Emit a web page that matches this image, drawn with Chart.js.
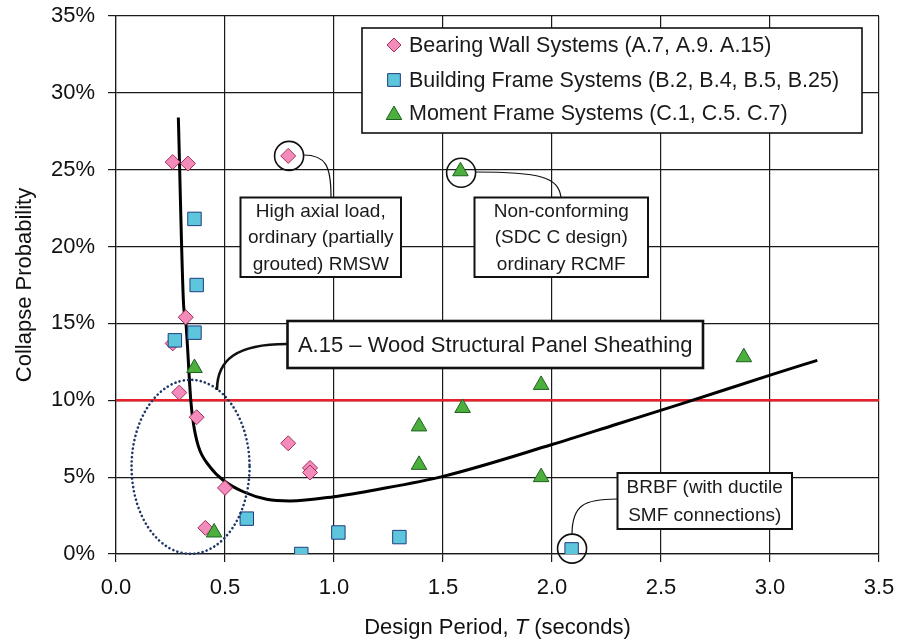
<!DOCTYPE html>
<html>
<head>
<meta charset="utf-8">
<script src="https://cdn.jsdelivr.net/npm/chart.js@4.4.0/dist/chart.umd.min.js"></script>
<style>
  html, body { margin: 0; padding: 0; background: #fff; }
  #wrap { width: 904px; height: 643px; }
</style>
</head>
<body>
<div id="wrap"><canvas id="grafico"></canvas></div>
<script>
// Bearing wall systems (periodo en s, probabilidad de colapso en %)
var periodoMuro = [0.26, 0.33, 0.79, 0.32, 0.26, 0.29, 0.37, 0.79, 0.89, 0.89, 0.50, 0.41];
var colapsoMuro = [25.5, 25.4, 25.9, 15.4, 13.7, 10.5, 8.9, 7.2, 5.6, 5.3, 4.3, 1.7];

// Building frame systems
var periodoPortico = [0.36, 0.37, 0.36, 0.27, 0.60, 0.85, 1.02, 1.30, 2.09];
var colapsoPortico = [21.8, 17.5, 14.4, 13.9, 2.3, 0.0, 1.4, 1.1, 0.3];

// Moment frame systems
var periodoMomento = [0.36, 0.45, 1.39, 1.39, 1.59, 1.58, 1.95, 1.95, 2.88];
var colapsoMomento = [12.1, 1.4, 8.3, 5.8, 9.5, 24.9, 11.0, 5.0, 12.8];

// Curva A.15
var periodoCurva = [0.286, 0.309, 0.321, 0.343, 0.355, 0.378, 0.431, 0.492, 0.584, 0.691, 0.798, 1.00, 1.20, 1.50, 2.00, 2.30, 2.60, 3.015, 3.217];
var colapsoCurva = [28.4, 16.5, 15.0, 10.0, 8.5, 7.0, 5.67, 4.8, 4.05, 3.56, 3.45, 3.73, 4.2, 5.05, 7.12, 8.46, 9.8, 11.7, 12.6];

// Limite del 10 %
var periodoLimite = [0, 3.5];
var colapsoLimite = [10, 10];

var etiquetasLeyenda = [
  'Bearing Wall Systems (A.7, A.9. A.15)',
  'Building Frame Systems (B.2, B.4, B.5, B.25)',
  'Moment Frame Systems (C.1, C.5. C.7)'
];

var fuente = '"Liberation Sans", Arial, sans-serif';

function puntos(xs, ys) {
  return xs.map(function (x, i) { return { x: x, y: ys[i] }; });
}

var estiloMuro = { pointStyle: 'rectRot', radius: 7.5, fill: '#f38bbb', borde: '#a4305c' };
var estiloPortico = { pointStyle: 'rect', radius: 9.5, fill: '#5ec6dc', borde: '#1f3c80' };
var estiloMomento = { pointStyle: 'triangle', radius: 9, fill: '#4cae3c', borde: '#1d621d' };
var estilos = [estiloMuro, estiloPortico, estiloMomento];

function serie(label, xs, ys, e, orden) {
  return {
    type: 'scatter',
    label: label,
    data: puntos(xs, ys),
    pointStyle: e.pointStyle,
    pointRadius: e.radius,
    pointHoverRadius: e.radius,
    backgroundColor: e.fill,
    borderColor: e.borde,
    borderWidth: 1,
    order: orden
  };
}

// Cajas de texto, circulos y conectores
var anotaciones = {
  id: 'anotaciones',
  afterDraw: function (chart) {
    var ctx = chart.ctx;
    var xs = chart.scales.x, ys = chart.scales.y;
    var px = function (v) { return xs.getPixelForValue(v); };
    var py = function (v) { return ys.getPixelForValue(v); };
    ctx.save();

    // elipse punteada
    ctx.beginPath();
    ctx.ellipse(px(0.342), py(5.67), 59, 87, 0, 0, Math.PI * 2);
    ctx.strokeStyle = '#1f3768';
    ctx.lineWidth = 2.6;
    ctx.lineCap = 'round';
    ctx.setLineDash([0.1, 4.2]);
    ctx.stroke();
    ctx.setLineDash([]);
    ctx.lineCap = 'butt';

    // circulos
    ctx.strokeStyle = '#111';
    ctx.lineWidth = 1.6;
    [[0.794, 25.9], [1.583, 24.8], [2.092, 0.35]].forEach(function (c) {
      ctx.beginPath();
      ctx.arc(px(c[0]), py(c[1]), 14.5, 0, Math.PI * 2);
      ctx.stroke();
    });

    // conectores finos
    ctx.lineWidth = 1.2;
    ctx.beginPath();
    ctx.moveTo(303.5, 155);
    ctx.bezierCurveTo(326, 155, 331, 166, 331, 197);
    ctx.moveTo(475.5, 172);
    ctx.bezierCurveTo(540, 172, 558, 177, 561, 197);
    ctx.moveTo(572, 534.5);
    ctx.bezierCurveTo(572, 505, 584, 499, 617, 499);
    ctx.stroke();

    // conector grueso de A.15
    ctx.lineWidth = 2.6;
    ctx.beginPath();
    ctx.moveTo(287, 344);
    ctx.bezierCurveTo(236, 344, 217, 360, 217, 390);
    ctx.stroke();

    function caja(x1, y1, x2, y2, lineas, tam, ancho) {
      ctx.fillStyle = '#fff';
      ctx.fillRect(x1, y1, x2 - x1, y2 - y1);
      ctx.strokeStyle = '#111';
      ctx.lineWidth = ancho;
      ctx.strokeRect(x1, y1, x2 - x1, y2 - y1);
      ctx.fillStyle = '#1a1a1a';
      ctx.font = tam + 'px ' + fuente;
      ctx.textAlign = 'center';
      ctx.textBaseline = 'middle';
      var alto = (y2 - y1) / lineas.length;
      lineas.forEach(function (t, i) {
        ctx.fillText(t, (x1 + x2) / 2, y1 + alto * (i + 0.5) + 1);
      });
    }
    caja(240.5, 197.5, 401, 277, ['High axial load,', 'ordinary (partially', 'grouted) RMSW'], 19, 2);
    caja(474.5, 197.5, 648, 277, ['Non-conforming', '(SDC C design)', 'ordinary RCMF'], 19, 2);
    caja(287.5, 321, 703, 368, ['A.15 \u2013 Wood Structural Panel Sheathing'], 22, 2.6);
    caja(617.5, 473, 792, 529, ['BRBF (with ductile', 'SMF connections)'], 19, 2);

    // leyenda
    ctx.fillStyle = '#fff';
    ctx.fillRect(362, 28, 500, 105);
    ctx.strokeStyle = '#111';
    ctx.lineWidth = 1.6;
    ctx.strokeRect(362, 28, 500, 105);
    var filas = [45, 80, 113];
    ctx.font = '21.5px ' + fuente;
    ctx.textAlign = 'left';
    ctx.textBaseline = 'middle';
    etiquetasLeyenda.forEach(function (t, i) {
      var e = estilos[i];
      ctx.fillStyle = e.fill;
      ctx.strokeStyle = e.borde;
      ctx.lineWidth = 1;
      var r = e.pointStyle === 'rectRot' ? 7 : 9;
      var yy = filas[i] + (e.pointStyle === 'triangle' ? 2 : 0);
      Chart.helpers.drawPoint(ctx, { pointStyle: e.pointStyle, radius: r, rotation: 0, borderWidth: 1 }, 394, yy);
      ctx.fillStyle = '#1a1a1a';
      ctx.fillText(t, 409, filas[i] + 1);
    });

    // titulos de ejes
    ctx.fillStyle = '#111';
    ctx.font = '22px ' + fuente;
    ctx.textBaseline = 'middle';
    var a = 'Design Period, ', b = 'T', c = ' (seconds)';
    var wa = ctx.measureText(a).width, wc = ctx.measureText(c).width;
    ctx.font = 'italic 22px ' + fuente;
    var wb = ctx.measureText(b).width;
    var x0 = (chart.chartArea.left + chart.chartArea.right) / 2 - (wa + wb + wc) / 2;
    ctx.textAlign = 'left';
    ctx.font = '22px ' + fuente;
    ctx.fillText(a, x0, 628);
    ctx.font = 'italic 22px ' + fuente;
    ctx.fillText(b, x0 + wa, 628);
    ctx.font = '22px ' + fuente;
    ctx.fillText(c, x0 + wa + wb, 628);

    ctx.translate(25, (chart.chartArea.top + chart.chartArea.bottom) / 2);
    ctx.rotate(-Math.PI / 2);
    ctx.textAlign = 'center';
    ctx.fillText('Collapse Probability', 0, 0);
    ctx.restore();
  }
};

var config = {
  type: 'scatter',
  data: {
    datasets: [
      serie(etiquetasLeyenda[0], periodoMuro, colapsoMuro, estiloMuro, 2),
      serie(etiquetasLeyenda[1], periodoPortico, colapsoPortico, estiloPortico, 1),
      serie(etiquetasLeyenda[2], periodoMomento, colapsoMomento, estiloMomento, 0),
      {
        type: 'line',
        label: 'A.15',
        data: puntos(periodoCurva, colapsoCurva),
        borderColor: '#000',
        borderWidth: 3,
        pointRadius: 0,
        cubicInterpolationMode: 'monotone',
        fill: false,
        order: 3
      },
      {
        type: 'line',
        label: '10%',
        data: puntos(periodoLimite, colapsoLimite),
        borderColor: '#e8202a',
        borderWidth: 2.5,
        pointRadius: 0,
        fill: false,
        order: 4
      }
    ]
  },
  options: {
    responsive: false,
    animation: false,
    events: [],
    layout: { padding: { top: 16, right: 25, left: 0, bottom: 0 } },
    plugins: { legend: { display: false }, tooltip: { enabled: false } },
    scales: {
      x: {
        type: 'linear',
        min: 0,
        max: 3.5,
        grid: { color: '#1a1a1a', lineWidth: 1.2, tickLength: 8, tickColor: '#1a1a1a' },
        border: { color: '#1a1a1a', width: 1.2 },
        ticks: {
          stepSize: 0.5,
          padding: 13,
          color: '#111',
          font: { family: fuente, size: 22 },
          callback: function (v) { return v.toFixed(1); }
        },
        afterFit: function (s) {
          s.height = 89;
          s.paddingLeft = 0; s.paddingRight = 0;
        }
      },
      y: {
        type: 'linear',
        min: 0,
        max: 35,
        grid: { color: '#1a1a1a', lineWidth: 1.2, tickLength: 8, tickColor: '#1a1a1a' },
        border: { color: '#1a1a1a', width: 1.2 },
        ticks: {
          stepSize: 5,
          padding: 13,
          color: '#111',
          font: { family: fuente, size: 22 },
          callback: function (v) { return v + '%'; }
        },
        afterFit: function (s) {
          s.width = 116;
          s.paddingTop = 0; s.paddingBottom = 0;
        }
      }
    }
  },
  plugins: [anotaciones]
};

var canvas = document.getElementById('grafico');
canvas.width = 904;
canvas.height = 643;
var grafico = new Chart(canvas.getContext('2d'), config);
</script>
</body>
</html>
